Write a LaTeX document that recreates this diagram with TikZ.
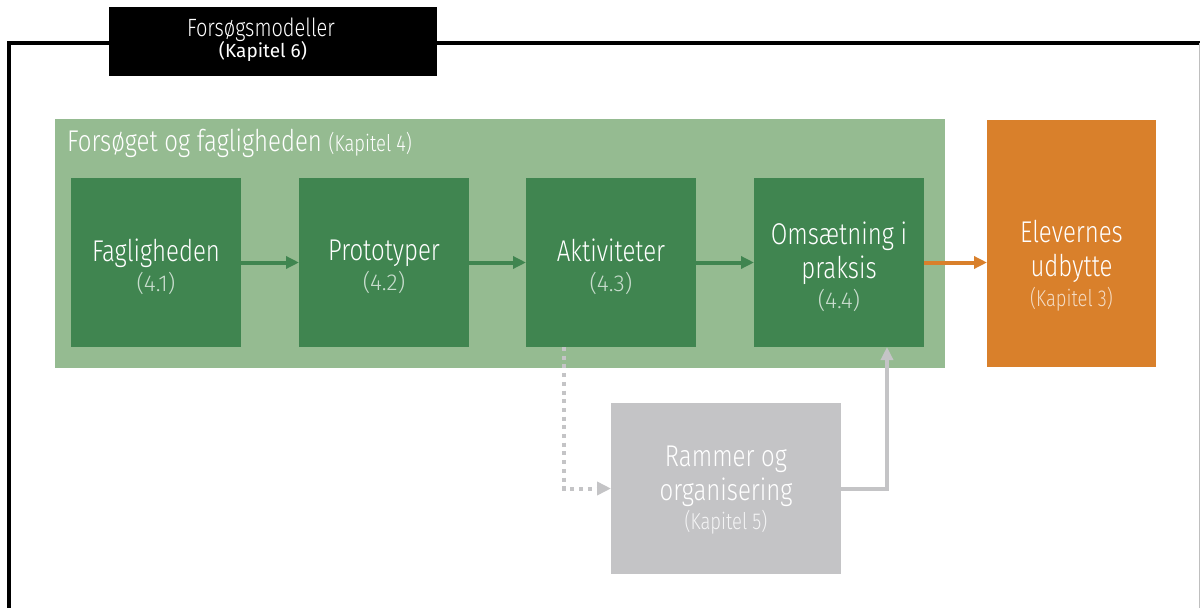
\documentclass[tikz,border=0pt]{standalone}
\usepackage{fontspec}
\usetikzlibrary{arrows.meta}
\newfontfamily\lightfont{Fira Sans Light}[FakeStretch=0.8]
\newfontfamily\lightnum{Fira Sans Light}
\newfontfamily\regfont{Fira Sans}
\definecolor{lgreen}{RGB}{149,187,145}
\definecolor{dgreen}{RGB}{64,133,80}
\definecolor{orng}{RGB}{217,128,43}
\definecolor{gbox}{RGB}{196,196,198}
\colorlet{subG}{white!72!dgreen}
\colorlet{subO}{white!72!orng}
\colorlet{subY}{white!82!gbox}
\newcommand\subline[2]{{\fontsize{23}{26}\selectfont\color{#1}#2}}
\newcommand\subnum[2]{{\lightnum\fontsize{23}{26}\selectfont\color{#1}#2}}
\begin{document}
\begin{tikzpicture}[x=1pt,y=-1pt,
  box/.style={draw=none,inner sep=0pt,outer sep=0pt},
  dkbox/.style={box,fill=dgreen,minimum width=170pt,minimum height=169pt},
  lbl/.style={text=white,align=center,inner sep=0pt,font=\lightfont\fontsize{30}{34}\selectfont},
  conn/.style={line width=4pt,-{Triangle[length=13pt,width=12pt]}},
  dotconn/.style={line width=4pt,dash pattern=on 4pt off 4.7pt,-{Triangle[length=14pt,width=13pt]}}]
\useasboundingbox (0,0) rectangle (1200,608);
\fill[white] (0,0) rectangle (1200,608);
% outer frame
\coordinate (fbl) at (9,620);
\coordinate (ftr) at (1215,43);
\draw[line width=4pt,miter limit=4] (fbl) |- (ftr);
\draw[line width=1pt,black!25] (1199.5,43) -- (1199.5,610);
% title box
\node[box,fill=black,minimum width=328pt,minimum height=69pt] (tb) at (273,41.5) {};
\node[anchor=base,text=white,inner sep=0pt,font=\lightfont\fontsize{25}{30}\selectfont] (tbt) at (261,36) {Forsøgsmodeller};
\node[anchor=base,text=white,inner sep=0pt,font=\regfont\fontsize{19}{24}\selectfont] (tbs) at (263,57) {(Kapitel 6)};
% big light green area
\node[box,fill=lgreen,minimum width=890pt,minimum height=249pt] (fg) at (500,243.5) {};
\node[anchor=base west,inner sep=0pt,text=white,font=\lightfont\fontsize{30}{34}\selectfont] (fgt) at (67,151)
  {Forsøget og fagligheden \subline{white}{(Kapitel 4)}};
% dark green boxes
\node[dkbox] (b1) at (156,262.5) {};
\node[dkbox] (b2) at (384,262.5) {};
\node[dkbox] (b3) at (611,262.5) {};
\node[dkbox] (b4) at (839,262.5) {};
\node[lbl] (t1) at (156,267) {Fagligheden\\[-4pt]\subnum{subG}{(4.1)}};
\node[lbl] (t2) at (384,267) {Prototyper\\[-4pt]\subnum{subG}{(4.2)}};
\node[lbl] (t3) at (611,267) {Aktiviteter\\[-4pt]\subnum{subG}{(4.3)}};
\node[lbl] (t4) at (839,266.5) {Omsætning i\\praksis\\[-4pt]\subnum{subG}{(4.4)}};
% orange box
\node[box,fill=orng,minimum width=169pt,minimum height=247pt] (ob) at (1071.5,243.5) {};
\node[lbl] (ot) at (1071.5,266) {Elevernes\\udbytte\\[-4pt]\subline{subO}{(Kapitel 3)}};
% gray box
\node[box,fill=gbox,minimum width=230pt,minimum height=171pt] (gb) at (726,488.5) {};
\node[lbl] (gt) at (726,490) {Rammer og\\organisering\\[-5pt]\subline{subY}{(Kapitel 5)}};
% connectors
\draw[conn,dgreen] (b1) -- (b2);
\draw[conn,dgreen] (b2) -- (b3);
\draw[conn,dgreen] (b3) -- (b4);
\draw[conn,orng] (b4.east) -- (b4.east -| ob.west);
\draw[dotconn,gbox] ([xshift=-47pt]b3.south) |- (gb.west);
\draw[conn,gbox] (gb.east) -| ([xshift=48pt]b4.south);
\end{tikzpicture}
\end{document}
